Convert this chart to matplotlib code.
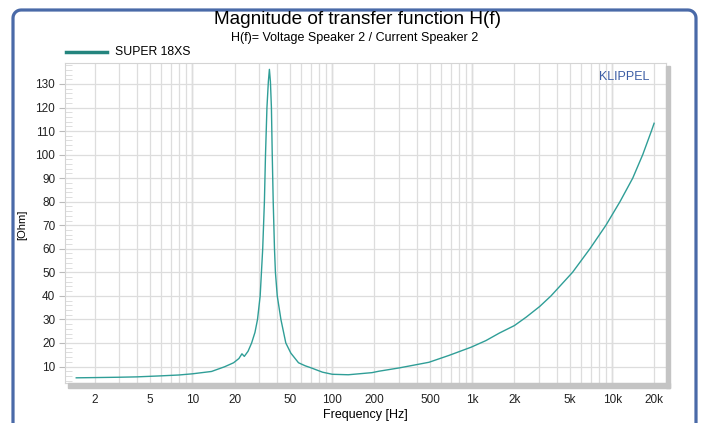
import numpy as np
import matplotlib.pyplot as plt
from matplotlib.patches import Rectangle
from matplotlib.lines import Line2D
from matplotlib.ticker import FixedLocator, MultipleLocator, NullFormatter

plt.rcParams['font.family'] = ['Liberation Sans', 'DejaVu Sans']

# impedance curve
freq = [1.48, 2, 3, 4, 5.8, 8, 10, 13.7, 17, 19.7, 21.5, 22.6, 23.5, 25,
        26.5, 28, 29.2, 30.5, 31.8, 32.7, 33.3, 34.1, 34.9, 35.5, 36.1,
        36.7, 37.2, 37.8, 38.6, 39.2, 40.4, 42.9, 46.5, 50.5, 57.3, 64, 70,
        85, 100, 130, 192, 215, 300, 490, 680, 980, 1250, 1560, 2000, 2430,
        3030, 3650, 5200, 6920, 9010, 11350, 14000, 16510, 19030, 19900]
ohm = [5.2, 5.3, 5.45, 5.6, 6.0, 6.4, 6.9, 7.9, 9.9, 11.6, 13.4, 15.4, 14.3,
       16.5, 20, 24.5, 30, 40, 60, 80, 100, 120, 131, 136.2, 131,
       120, 100, 80, 60, 50, 40, 30, 20, 15.7, 11.6, 10.3, 9.5,
       7.6, 6.7, 6.5, 7.4, 8.0, 9.4, 11.8, 14.7, 18.2, 21, 24.2, 27.4, 31,
       35.5, 40, 50, 60, 70, 80, 90, 100, 110, 113.3]

xticks = [2, 5, 10, 20, 50, 100, 200, 500, 1000, 2000, 5000, 10000, 20000]
xlabels = ['2', '5', '10', '20', '50', '100', '200', '500', '1k', '2k',
           '5k', '10k', '20k']
yticks = list(range(10, 140, 10))

W, H = 702, 423
fig = plt.figure(figsize=(W / 100, H / 100), dpi=100)

# blue frame round the chart: sides and top with rounded top corners
r = 8
t = np.linspace(0, np.pi / 2, 8)
left_c = [(13 + r - r * np.cos(a), 10 + r - r * np.sin(a)) for a in t]
right_c = [(696 - r + r * np.sin(a), 10 + r - r * np.cos(a)) for a in t]
pts = [(13, 440)] + left_c + right_c + [(696, 440)]
fx = [p[0] / W for p in pts]
fy = [1 - p[1] / H for p in pts]
fig.add_artist(Line2D(fx, fy, transform=fig.transFigure, color='#4a6aa8',
                      linewidth=2.3, solid_joinstyle='round'))

ax = fig.add_axes([65 / W, 1 - 383 / H, 601 / W, 320 / H])

# shadow under and right of the plot
fig.patches.append(Rectangle((68 / W, 1 - 388 / H), 602 / W, 5 / H,
                             transform=fig.transFigure, color='#c4c4c4', zorder=0))
fig.patches.append(Rectangle((666 / W, 1 - 388 / H), 4 / W, 322 / H,
                             transform=fig.transFigure, color='#c4c4c4', zorder=0))

ax.semilogx(freq, ohm, color='#2f9e97', linewidth=1.0)

ax.set_xlim(1.23, 24200)
ax.set_ylim(3.0, 138.9)

ax.xaxis.set_major_locator(FixedLocator(xticks))
ax.set_xticklabels(xlabels)
minor = []
for dec in [1, 10, 100, 1000, 10000]:
    for m in range(2, 10):
        minor.append(dec * m)
ax.xaxis.set_minor_locator(FixedLocator(minor))
ax.xaxis.set_minor_formatter(NullFormatter())
ax.set_yticks(yticks)
ax.yaxis.set_minor_locator(MultipleLocator(2))

ax.grid(True, which='both', axis='x', color='#dddddd', linewidth=0.9)
ax.grid(True, which='major', axis='y', color='#dddddd', linewidth=0.9)
for d in [10, 100, 1000, 10000]:
    ax.axvline(d, color='#cfcfcf', linewidth=1.0, zorder=0.5)
ax.set_axisbelow(True)

ax.tick_params(axis='x', which='both', length=0, pad=8, labelsize=8.5,
               labelcolor='#222222')
ax.tick_params(axis='y', which='major', length=4, color='#bbbbbb', pad=3,
               labelsize=8.5, labelcolor='#222222')
ax.tick_params(axis='y', which='minor', direction='in', length=5,
               color='#d8d8d8')
for s in ax.spines.values():
    s.set_color('#d4d4d4')
    s.set_linewidth(0.8)

ax.text(0.972, 0.955, 'KLIPPEL', transform=ax.transAxes, ha='right',
        va='center', fontsize=9, color='#3d5ea5')

ax.set_xlabel('Frequency [Hz]', fontsize=9, labelpad=2)
fig.text(22 / W, 1 - 225 / H, '[Ohm]', rotation=90, ha='center',
         va='center', fontsize=8)

fig.text(357 / W, 1 - 20 / H, 'Magnitude of transfer function H(f)',
         ha='center', va='center', fontsize=13.7)
fig.text(355 / W, 1 - 38 / H, 'H(f)= Voltage Speaker 2 / Current Speaker 2',
         ha='center', va='center', fontsize=9)

# legend entry above the plot
fig.add_artist(Line2D([66 / W, 107 / W], [1 - 52 / H, 1 - 52 / H],
                      transform=fig.transFigure, color='#24857e', linewidth=2.5))
fig.text(115 / W, 1 - 52 / H, 'SUPER 18XS', ha='left', va='center',
         fontsize=8.8)

fig.savefig('out.png', dpi=100)
